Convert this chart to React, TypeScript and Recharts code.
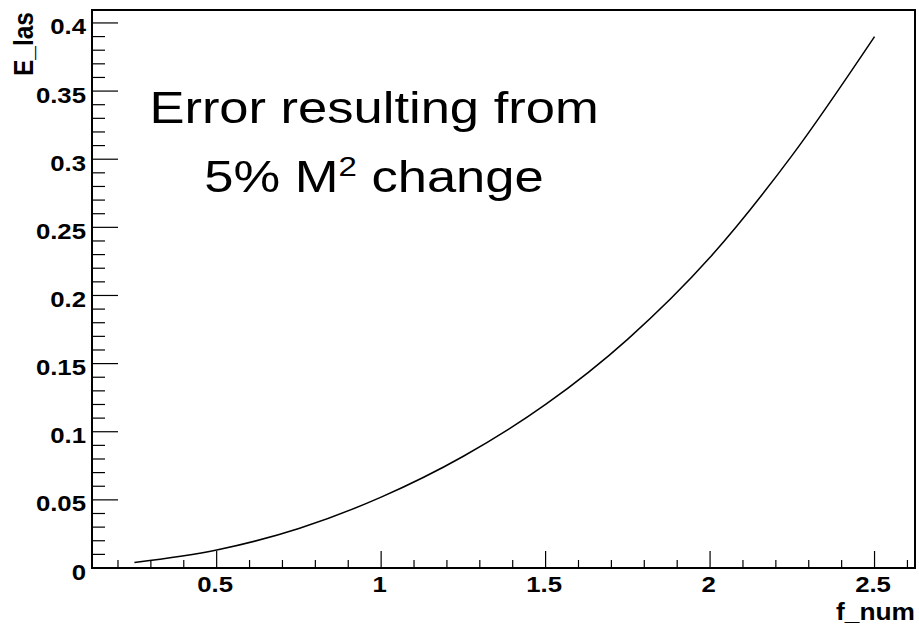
import { LineChart, Line, XAxis, YAxis, ReferenceArea } from 'recharts';

// f_num values and the error
const fNum = [0.25, 0.5, 0.75, 1.0, 1.25, 1.5, 1.75, 2.0, 2.25, 2.5];
const eLas = [0.004, 0.0132, 0.029, 0.052, 0.082, 0.12, 0.168, 0.228, 0.303, 0.39];

const xMajor = [0.5, 1, 1.5, 2, 2.5];
const xMinor = [
  0.2, 0.3, 0.4, 0.5, 0.6, 0.7, 0.8, 0.9, 1.0, 1.1, 1.2, 1.3, 1.4, 1.5, 1.6, 1.7, 1.8,
  1.9, 2.0, 2.1, 2.2, 2.3, 2.4, 2.5, 2.6,
];
const yMajor = [0, 0.05, 0.1, 0.15, 0.2, 0.25, 0.3, 0.35, 0.4];
const yMinor = [
  0, 0.01, 0.02, 0.03, 0.04, 0.05, 0.06, 0.07, 0.08, 0.09, 0.1, 0.11, 0.12, 0.13, 0.14,
  0.15, 0.16, 0.17, 0.18, 0.19, 0.2, 0.21, 0.22, 0.23, 0.24, 0.25, 0.26, 0.27, 0.28,
  0.29, 0.3, 0.31, 0.32, 0.33, 0.34, 0.35, 0.36, 0.37, 0.38, 0.39, 0.4,
];

const X_DOMAIN: [number, number] = [0.121, 2.623];
const Y_DOMAIN: [number, number] = [0, 0.4095];

const data = fNum.map((f, i) => ({ f, e: eLas[i] }));

const FONT = '"Liberation Sans", Arial, Helvetica, sans-serif';
const STRETCH = 1.12;

const isMajor = (v: number, majors: number[]) => majors.some((m) => Math.abs(m - v) < 1e-6);

function XTick(props: any) {
  const { x, y, payload } = props;
  const major = isMajor(payload.value, xMajor);
  return (
    <g>
      <line x1={x} x2={x} y1={y} y2={y - (major ? 17 : 8)} stroke="#000" strokeWidth={1.2} />
      {major && (
        <text
          transform={`translate(${x - 1.5} ${y + 24}) scale(${STRETCH} 1)`}
          textAnchor="middle"
          fontFamily={FONT}
          fontWeight="bold"
          fontSize={23}
          fill="#000"
        >
          {payload.value}
        </text>
      )}
    </g>
  );
}

function YTick(props: any) {
  const { x, y, payload } = props;
  const major = isMajor(payload.value, yMajor);
  return (
    <g>
      <line x1={x} x2={x + (major ? 26 : 13)} y1={y} y2={y} stroke="#000" strokeWidth={1.2} />
      {major && (
        <text
          transform={`translate(${x - 6} ${y + 11.5}) scale(${STRETCH} 1)`}
          textAnchor="end"
          fontFamily={FONT}
          fontWeight="bold"
          fontSize={23}
          fill="#000"
        >
          {payload.value}
        </text>
      )}
    </g>
  );
}

export default function App() {
  return (
    <div style={{ position: 'absolute', left: 0, top: 0, width: 919, height: 625, background: '#fff' }}>
      <LineChart width={919} height={625} data={data} margin={{ top: 10, right: 4, bottom: 0, left: 0 }}>
        <XAxis
          dataKey="f"
          type="number"
          domain={X_DOMAIN}
          allowDataOverflow
          ticks={xMinor}
          interval={0}
          height={57}
          tickSize={0}
          tickMargin={0}
          tickLine={false}
          tick={<XTick />}
          axisLine={{ stroke: '#000', strokeWidth: 2 }}
        />
        <YAxis
          type="number"
          domain={Y_DOMAIN}
          allowDataOverflow
          ticks={yMinor}
          interval={0}
          width={92}
          tickSize={0}
          tickMargin={0}
          tickLine={false}
          tick={<YTick />}
          axisLine={{ stroke: '#000', strokeWidth: 2 }}
        />
        <ReferenceArea
          x1={X_DOMAIN[0]}
          x2={X_DOMAIN[1]}
          y1={Y_DOMAIN[0]}
          y2={Y_DOMAIN[1]}
          fill="none"
          fillOpacity={0}
          stroke="#000"
          strokeWidth={2}
        />
        <Line
          dataKey="e"
          type="monotone"
          stroke="#000"
          strokeWidth={1.5}
          dot={false}
          activeDot={false}
          isAnimationActive={false}
        />
      </LineChart>
      <svg
        width={919}
        height={625}
        style={{ position: 'absolute', left: 0, top: 0, pointerEvents: 'none' }}
      >
        <text
          transform={`translate(33 12) rotate(-90) scale(1 ${STRETCH})`}
          textAnchor="end"
          fontFamily={FONT}
          fontWeight="bold"
          fontSize={24.5}
        >
          E_las
        </text>
        <text
          transform={`translate(915 620) scale(${STRETCH} 1)`}
          textAnchor="end"
          fontFamily={FONT}
          fontWeight="bold"
          fontSize={23.5}
        >
          f_num
        </text>
        <text
          transform={`translate(374 123) scale(1.18 1)`}
          textAnchor="middle"
          fontFamily={FONT}
          fontSize={44.5}
        >
          Error resulting from
        </text>
        <text
          transform={`translate(374 192) scale(1.18 1)`}
          textAnchor="middle"
          fontFamily={FONT}
          fontSize={44.5}
        >
          5% M
          <tspan fontSize={28} dy={-16}>
            2
          </tspan>
          <tspan dy={16}> change</tspan>
        </text>
      </svg>
    </div>
  );
}
